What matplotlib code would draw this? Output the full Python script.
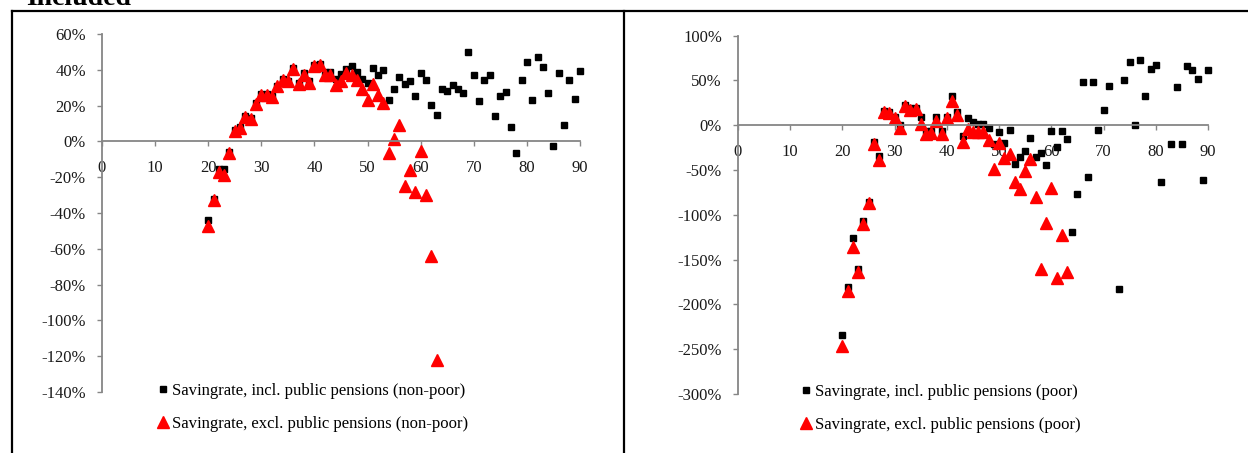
import numpy as np
import matplotlib
matplotlib.use('Agg')
import matplotlib.pyplot as plt
from matplotlib.lines import Line2D
from matplotlib.ticker import FuncFormatter, MultipleLocator

plt.rcParams['font.family'] = ['Liberation Serif', 'DejaVu Serif']

nan = np.nan

# ---- data (saving rate in %, by age) ----
ages_incl = np.arange(20, 91)
ages_excl = np.arange(20, 64)

nonpoor_incl = [-43.7, -32, -15.5, -15.3, -6, 6.3, 8.2, 14.3, 13.3, 21.5,
                26.5, 26.5, 25.5, 31.2, 35, 34, 41, 32.8, 38, 33.5,
                42.6, 43, 38.5, 38.5, 35, 37.9, 40.3, 42, 38.8, 35.1,
                32.9, 41, 37.3, 39.8, 23, 29.1, 35.9, 32.3, 33.6, 25.4,
                38.1, 34.3, 20.2, 14.9, 29.1, 28.4, 31.4, 29.1, 26.9, 50,
                37.3, 22.4, 34.3, 37.3, 14.2, 25.4, 27.6, 8.2, -6.7, 34.3,
                44.1, 23.2, 47, 41.8, 26.9, -2.4, 38.1, 9, 34.3, 23.9,
                39.6]
nonpoor_excl = [-47, -33, -17, -18.5, -6.5, 5.8, 7.7, 13.6, 12.7, 21,
                26, 26, 25, 30.8, 34.5, 33.6, 40.7, 32.3, 37.3, 32.9,
                42.2, 42.5, 37, 37, 31.4, 33.6, 38, 37, 34.2, 29,
                23, 32, 25.8, 21.7, -6.3, 1.1, 9, -25, -15.9, -28.4,
                -5.4, -29.7, -63.9, -122]

poor_incl = [-233.7, -180.8, -125.8, -161, -107, -86, -19, -34.3, 15.5, 15,
             9, 0.3, 23, 19, 19.5, 9.6, -6.5, -6, 9.6, -6.4,
             9.5, 32.7, 15.2, -12.4, 7.8, 3.3, 1.1, 1.1, -2.6, -21.2,
             -7.8, -19.4, -5.2, -43.2, -35.7, -28.3, -13.8, -35.7, -31.2, -44.6,
             -6.4, -23.9, -6.4, -15.6, -118.7, -76.3, 48.7, -57.5, 48.7, -5.2,
             16.7, 44.2, nan, -183, 50.2, 70.3, 0.3, 73.2, 32.7, 63.2,
             67.6, -63.3, nan, -21.2, 42.7, -21.2, 66.2, 61.7, 51.7, -60.7,
             61.7]
poor_excl = [-246, -185, -136, -163.7, -110.5, -87, -20.5, -38.7, 14.5, 14,
             7.8, -2.6, 21.9, 17, 18, 1.5, -10, -8.2, 4.8, -10,
             8.5, 26.7, 11.8, -18.5, -4.3, -8, -8, -8, -16.6, -48.6,
             -20, -36.3, -32, -63, -71.4, -50.6, -37.4, -80.4, -160.4, -109.4,
             -70.3, -170.8, -122.8, -163.4]

labels_left = ['Savingrate, incl. public pensions (non-poor)',
               'Savingrate, excl. public pensions (non-poor)']
labels_right = ['Savingrate, incl. public pensions (poor)',
                'Savingrate, excl. public pensions (poor)']

W, H = 1248, 453
fig = plt.figure(figsize=(W / 100, H / 100), dpi=100)

def px_box(x0, x1, ytop, ybot):
    return [x0 / W, 1 - ybot / H, (x1 - x0) / W, (ybot - ytop) / H]

ax1 = fig.add_axes(px_box(102, 580, 34, 392))
ax2 = fig.add_axes(px_box(738, 1208, 35.7, 394))

grey = '#868686'


def style(ax, ylo, yhi, ystep):
    ax.set_xlim(0, 90)
    ax.set_ylim(ylo, yhi)
    ax.xaxis.set_major_locator(MultipleLocator(10))
    ax.yaxis.set_major_locator(MultipleLocator(ystep))
    ax.yaxis.set_major_formatter(FuncFormatter(lambda v, p: '%d%%' % round(v)))
    for s in ['top', 'right']:
        ax.spines[s].set_visible(False)
    ax.spines['bottom'].set_position(('data', 0))
    for s in ['left', 'bottom']:
        ax.spines[s].set_color(grey)
        ax.spines[s].set_linewidth(1.3)
    ax.tick_params(axis='both', direction='out', length=3.6, width=1.0,
                   color=grey, labelsize=12, labelcolor='#1a1a1a')
    ax.tick_params(axis='y', pad=8)
    ax.tick_params(axis='x', pad=10)
    ax.set_facecolor('none')


def draw(ax, incl, excl, labels, lx, ly):
    ax.plot(ages_incl, incl, linestyle='none', marker='s', color='black',
            markersize=4.2, label=labels[0], clip_on=False)
    ax.plot(ages_excl, excl, linestyle='none', marker='^', color='red',
            markersize=8, label=labels[1], clip_on=False)
    ax.legend(loc='upper left', bbox_to_anchor=(lx / W, 1 - ly / H),
              bbox_transform=fig.transFigure, frameon=False, fontsize=12,
              handlelength=0.6, handletextpad=0.25, labelspacing=1.0,
              borderpad=0, borderaxespad=0)


style(ax1, -140, 60, 20)
style(ax2, -300, 100, 50)
draw(ax1, nonpoor_incl, nonpoor_excl, labels_left, 158, 383)
draw(ax2, poor_incl, poor_excl, labels_right, 801, 384)

# frame around the panels
fig.add_artist(Line2D([11.5 / W, 11.5 / W], [0, 1 - 10.5 / H], color='black', lw=1.6))
fig.add_artist(Line2D([11.5 / W, 1], [1 - 10.5 / H, 1 - 10.5 / H], color='black', lw=1.6))
fig.add_artist(Line2D([623.5 / W, 623.5 / W], [0, 1 - 10.5 / H], color='black', lw=1.6))

fig.text(26 / W, 1 - 5 / H, 'Included', fontsize=20, fontweight='bold',
         va='baseline', ha='left')

fig.savefig('out.png', dpi=100)
